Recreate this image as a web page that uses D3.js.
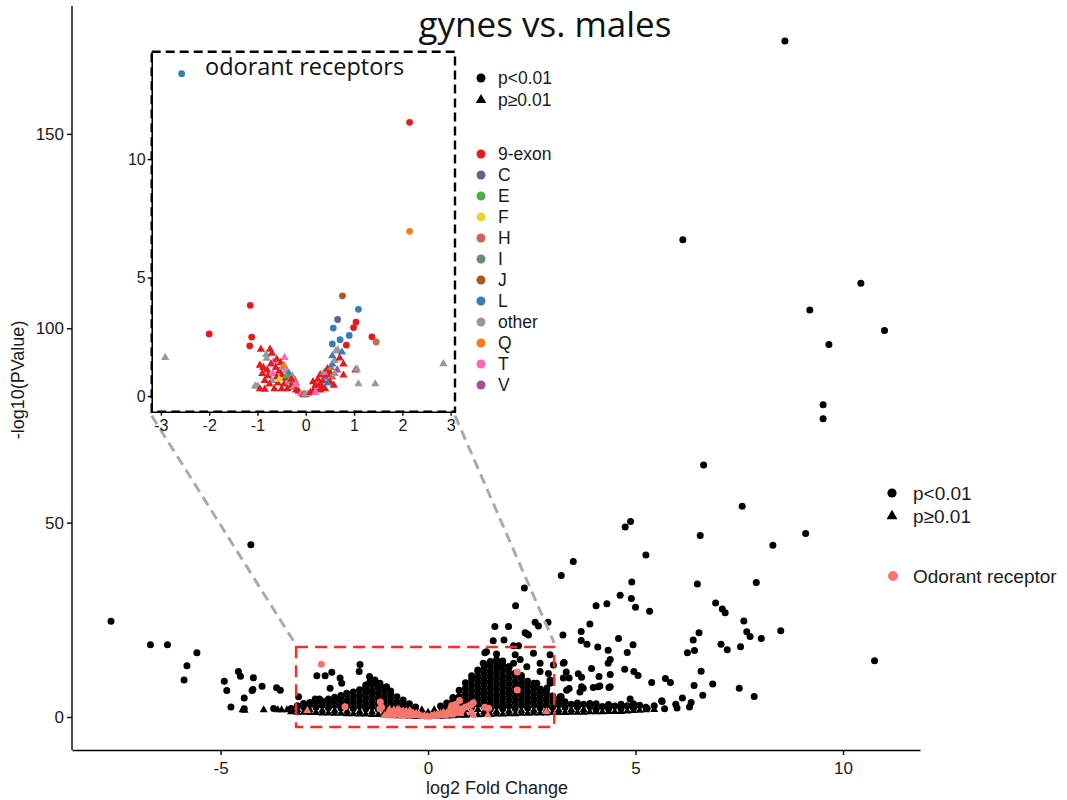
<!DOCTYPE html>
<html>
<head>
<meta charset="utf-8">
<script src="https://cdn.jsdelivr.net/npm/d3@7"></script>
<style>
  body { margin: 0; background: #fff; }
  text { font-family: "Liberation Sans", Arial, sans-serif; }
</style>
</head>
<body>
<svg id="chart" width="1067" height="800"></svg>
<script>
// ---------- data ----------
// Scattered genes (log2 fold change, -log10 p)
const outlierGenes = [
  [8.60,173.9],[6.14,122.8],[10.43,111.6],[9.20,104.7],[11.0,99.4],[9.66,95.8],[9.52,80.3],[9.52,76.7],
  [6.64,64.8],[7.57,54.2],[4.75,48.9],[4.88,50.3],[6.56,46.7],[9.10,47.2],[8.31,44.2],[5.25,41.7],
  [3.50,40.0],[3.21,36.4],[4.91,34.7],[6.49,34.2],[7.91,34.6],[4.63,31.3],[4.90,30.5],[5.00,28.2],
  [4.05,28.6],[4.31,29.1],[5.34,27.2],[6.93,29.3],[7.09,27.8],[7.16,26.8],[7.61,24.7],[2.89,24.4],
  [3.90,23.9],[3.69,22.0],[6.53,21.7],[6.39,19.8],[7.68,21.9],[7.76,20.7],[8.03,20.2],[8.50,22.2],
  [3.25,21.1],[4.59,20.2],[3.69,19.7],[3.83,18.7],[4.94,18.6],[4.09,18.0],[4.34,17.2],[4.80,16.6],
  [7.06,18.7],[7.21,17.3],[7.53,18.1],[6.25,16.5],[6.42,17.1],[10.76,14.5],[4.39,14.8],[4.34,13.8],
  [3.94,12.5],[4.74,12.3],[4.96,11.7],[5.06,10.7],[6.58,11.8],[3.28,14.0],[3.33,11.6],[3.62,11.1],
  [3.70,10.2],[4.12,10.4],[4.39,10.9],[5.39,8.9],[5.72,9.9],[5.84,8.9],[6.41,8.1],[6.86,8.5],
  [7.50,7.4],[7.86,5.3],[6.62,5.6],[6.34,3.7],[6.13,4.9],[5.97,3.3],[5.64,4.0],[5.28,2.2],
  [4.87,4.6],[4.14,8.0],[3.98,7.6],[4.36,7.6],[3.74,7.4],[3.40,7.3],[3.21,5.2],[3.34,6.9],
  [3.18,5.2],[2.86,7.4],[2.62,8.7],[2.22,7.8],[2.70,11.7],[2.94,9.5],[3.26,10.0],[3.66,6.4],
  [3.70,7.8],[4.10,7.8],[4.39,7.8],[5.63,4.2],
  [2.32,33.2],[2.11,28.6],[2.58,24.4],[2.66,23.4],[1.94,23.3],[1.61,23.3],[2.34,21.7],[2.42,21.1],
  [1.57,19.6],[1.83,19.8],[2.06,18.3],[2.18,18.3],[2.38,21.4],[1.37,16.5],[1.65,16.2],[2.10,16.0],
  [2.54,16.4],[2.94,16.0],[1.33,13.8],[1.73,12.9],[2.06,13.8],[2.38,12.9],[2.70,13.8],[3.02,13.4],
  [3.26,13.8],[2.22,14.8],[1.41,16.8],[2.90,11.2],[2.94,8.7],[3.40,10.0],
  [-4.27,44.3],[-7.64,24.6],[-6.69,18.6],[-6.28,18.6],[-5.57,16.5],[-5.81,13.2],[-5.88,9.5],
  [-4.57,11.7],[-4.52,10.5],[-4.21,10.1],[-4.91,9.2],[-4.85,6.8],[-4.22,7.1],[-4.24,6.8],
  [-4.00,7.9],[-3.65,7.5],[-3.56,6.9],[-4.43,4.9],[-4.75,2.6],[-4.43,2.1],[-3.72,2.2],[-3.12,5.2],
  [-4.47,1.8],[-4.42,1.7],[-3.96,1.8],[-3.62,1.8],[-3.40,1.8],[-3.28,1.8],[-3.53,1.8],
  [-1.64,13.5],[-1.66,11.7],[-2.68,10.6],[-2.48,10.6],[-2.32,11.5],[-2.12,10.0],[-2.36,7.4],
  [-2.08,8.7],[-1.96,6.1],[-2.72,4.6],[-2.62,4.6],[-1.41,10.4],[-1.40,9.1],[-1.28,9.5],
  [-1.16,8.7],[-1.00,7.8],[-1.48,6.5]
];

// Dense core of the volcano: per log2FC column, the -log10 p values of its genes
const bulkColumns = [
  [-3.30,[1.3,2.2]],
  [-3.15,[1.2,1.9,2.9]],
  [-3.00,[1.2,2.6,3.5]],
  [-2.85,[1.1,1.8,3.2,3.7]],
  [-2.70,[1.1,2.5,3.9]],
  [-2.55,[1.0,1.7,3.1,4.1]],
  [-2.40,[1.0,2.4,3.8,4.6]],
  [-2.25,[0.9,1.6,3.0,4.4,5.1]],
  [-2.10,[0.9,2.3,3.7,5.1,5.5]],
  [-1.95,[0.8,1.5,2.9,4.3,5.8]],
  [-1.80,[0.8,2.2,3.6,5.0,6.4]],
  [-1.65,[0.7,1.4,2.8,4.2,5.6,7.0]],
  [-1.50,[0.7,2.1,3.5,4.9,6.3,7.7,8.2]],
  [-1.35,[0.6,1.3,2.7,4.1,5.5,6.9,8.3]],
  [-1.20,[0.6,2.0,3.4,4.8,6.2,7.6,8.2]],
  [-1.05,[0.5,1.2,2.6,4.0,5.4,6.8,7.5]],
  [-0.90,[0.4,1.8,3.2,4.6,6.0,6.7]],
  [-0.75,[0.3,1.0,2.4,3.8,5.2]],
  [-0.60,[0.3,1.7,3.1,4.4]],
  [-0.45,[0.2,0.9,2.3,3.4]],
  [-0.30,[0.1,1.5,2.6]],
  [-0.15,[0.05,0.8,1.8]],
  [0.00,[0.03,1.2]],
  [0.15,[0.05,0.8,1.8]],
  [0.30,[0.1,1.5,2.8]],
  [0.45,[0.2,0.9,2.3,3.6]],
  [0.60,[0.3,1.7,3.1,4.5,5.0]],
  [0.75,[0.4,1.1,2.5,3.9,5.3,6.9]],
  [0.90,[0.4,1.8,3.2,4.6,6.0,7.4,8.8]],
  [1.05,[0.5,1.2,2.6,4.0,5.4,6.8,8.2,9.6,10.6]],
  [1.20,[0.5,1.9,3.3,4.7,6.1,7.5,8.9,10.3,11.7,12.1]],
  [1.35,[0.6,1.3,2.7,4.1,5.5,6.9,8.3,9.7,11.1,12.5,13.5]],
  [1.50,[0.6,2.0,3.4,4.8,6.2,7.6,9.0,10.4,11.8,13.2,14.3]],
  [1.65,[0.7,1.4,2.8,4.2,5.6,7.0,8.4,9.8,11.2,12.6,14.0,14.7]],
  [1.80,[0.7,2.1,3.5,4.9,6.3,7.7,9.1,10.5,11.9,13.3,14.4]],
  [1.95,[0.8,1.5,2.9,4.3,5.7,7.1,8.5,9.9,11.3,12.7,13.0]],
  [2.10,[0.8,2.2,3.6,5.0,6.4,7.8,9.2,10.6,11.3]],
  [2.25,[0.9,1.6,3.0,4.4,5.8,7.2,8.6,10.0,10.7]],
  [2.40,[0.9,2.3,3.7,5.1,6.5,7.9,9.2]],
  [2.55,[1.0,1.7,3.1,4.5,5.9,7.3,8.7]],
  [2.70,[1.0,2.4,3.8,5.2,6.6,7.2]],
  [2.85,[1.0,1.7,3.1,4.5,5.9,6.7]],
  [3.00,[1.1,2.5,3.9,5.4]],
  [3.15,[1.1,1.8,3.2,4.5]],
  [3.30,[1.1,2.5,3.9]],
  [3.45,[1.2,1.9,3.3]],
  [3.60,[1.2,2.6,3.6]],
  [3.75,[1.2,1.9,3.3]],
  [3.90,[1.3,2.7,3.5]],
  [4.05,[1.3,2.0,3.4]],
  [4.20,[1.3,2.7]],
  [4.35,[1.4,2.1,3.2]],
  [4.50,[1.4,2.8]],
  [4.65,[1.4,2.2,3.3]],
  [4.80,[1.5,2.9]],
  [4.95,[1.6,2.3,3.4]],
  [5.10,[1.7,3.0]],
  [5.25,[1.8,2.5]],
  [5.45,[1.9,2.9]],
  [5.70,[2.1]],
  [6.00,[2.3]],
  [6.30,[2.6]]
];

// Odorant receptor genes
const orLfc = [
  -2.57, 2.15, 2.15, 0.76, 1.09, 0.66, -1.15, -2.00, -1.12, -1.16, 0.57, 1.04, 0.99, 0.90, 0.71, 0.55, 0.84, 1.37, 1.46,
  -2.91, -1.05, -1.00, -0.95, -0.85, -0.93, -0.74, -0.81, -0.44, -0.67, -0.95, -0.88, -0.80, -0.72, -0.62, -0.55,
  -0.90, -0.78, -0.68, -0.60, -0.50, -0.42, -0.70, -0.58, -0.45, -0.35, -0.30, -0.25, -0.20, -0.15, -0.10, -0.05,
  -0.38, -0.50, -0.65, -0.75, -0.85, -0.52, -0.48, -0.40, -0.35, -0.28, -0.22, -0.60, -0.82, -0.70, -0.40, -0.55,
  -0.30, -0.20, -0.45, 0.00, 0.05, -0.02,
  0.10, 0.15, 0.20, 0.25, 0.30, 0.35, 0.40, 0.45, 0.50, 0.30, 0.38, 0.45, 0.52, 0.55, 0.60, 0.55, 0.62, 0.66,
  0.75, 0.70, 0.78, 0.78, 0.65, 0.55, 0.50, 0.58, 0.40, 0.30, 0.20, 0.45, 0.60, 0.25, 0.35, 1.03, 1.06, 1.09,
  1.44, 2.85, 0.15, 0.20
];
const orNlp = [
  13.6, 11.55, 6.95, 4.23, 3.66, 3.23, 3.83, 2.62, 2.49, 2.12, 2.87, 3.12, 2.89, 2.56, 2.38, 2.20, 2.15, 2.50, 2.28,
  1.62, 0.42, 0.42, 0.30, 0.28, 1.97, 1.97, 1.59, 1.62, 1.45, 1.30, 1.20, 1.10, 1.35, 1.20, 1.05,
  0.95, 0.85, 0.95, 0.80, 0.90, 0.75, 0.65, 0.55, 0.50, 0.60, 0.45, 0.35, 0.25, 0.20, 0.10, 0.05,
  0.30, 0.30, 0.30, 0.50, 0.65, 1.40, 1.20, 1.10, 0.95, 0.85, 0.65, 1.55, 1.75, 1.80, 0.85, 0.70,
  0.70, 0.50, 1.30, 0.05, 0.10, 0.08,
  0.15, 0.20, 0.35, 0.40, 0.50, 0.65, 0.80, 0.90, 1.00, 0.90, 1.00, 1.15, 1.20, 1.35, 1.50, 1.70, 1.90, 1.95,
  1.85, 1.60, 1.35, 0.88, 1.10, 0.80, 0.60, 0.45, 0.30, 0.25, 0.15, 0.55, 0.95, 0.70, 0.35, 1.10, 1.14, 0.51,
  0.51, 1.36, 0.60, 0.45
];
const orFam = [
  "L","9-exon","Q","J","L","C","9-exon","9-exon","9-exon","9-exon","L","9-exon","9-exon","L","L","L","9-exon","9-exon","H",
  "other","other","other","9-exon","9-exon","9-exon","9-exon","other","T","T","9-exon","9-exon","9-exon","9-exon","9-exon","9-exon",
  "9-exon","9-exon","T","9-exon","9-exon","9-exon","other","9-exon","9-exon","other","9-exon","other","9-exon","9-exon","T","9-exon",
  "9-exon","9-exon","9-exon","9-exon","9-exon","9-exon","other","T","L","other","H","9-exon","other","9-exon","E","F",
  "9-exon","T","Q","J","T","other",
  "9-exon","9-exon","9-exon","other","9-exon","9-exon","V","9-exon","9-exon","9-exon","other","9-exon","H","L","other","L","other","other",
  "L","9-exon","9-exon","9-exon","V","H","9-exon","9-exon","9-exon","9-exon","T","L","other","9-exon","9-exon","9-exon","other","other",
  "other","other","9-exon","9-exon"
];

const orFamilies = ["9-exon","C","E","F","H","I","J","L","other","Q","T","V"];
const orColors   = ["#E41A1C","#6A5D91","#4DAF4A","#E8D630","#CC6650","#6B8B6E","#A85A26","#377EB8","#999999","#F27E1F","#FF66BB","#A0509C"];

const mainXTicks = [-5, 0, 5, 10];
const mainYTicks = [0, 50, 100, 150];
const insetXTicks = [-3, -2, -1, 0, 1, 2, 3];
const insetYTicks = [0, 5, 10];
const sigCutoff = 2;            // -log10(0.01)
const zoomWindow = { x: [-3.18, 3.04], y: [-2.57, 18.0] };

// ---------- build rows ----------
const genes = outlierGenes.map(([l, p]) => ({ lfc: l, nlp: p }));
bulkColumns.forEach(([l, ps]) => ps.forEach(p => genes.push({ lfc: l, nlp: p })));
const ors = orLfc.map((l, i) => ({ lfc: l, nlp: orNlp[i], fam: orFam[i] }));

const famColor = d3.scaleOrdinal().domain(orFamilies).range(orColors);

// ---------- canvas ----------
const svg = d3.select("#chart");
const x = d3.scaleLinear().domain([-8.58, 11.855]).range([72, 920]);
const y = d3.scaleLinear().domain([-8.49, 182.9]).range([750, 6]);

const circleR = 3.5;
const triPath = d3.symbol().type(d3.symbolTriangle).size(28)();

function drawMarks(g, data, sx, sy, colorFn, r, tri) {
  g.selectAll(null).data(data.filter(d => d.nlp < sigCutoff)).join("path")
    .attr("d", tri)
    .attr("transform", d => `translate(${sx(d.lfc)},${sy(d.nlp)})`)
    .attr("fill", colorFn);
  g.selectAll(null).data(data.filter(d => d.nlp >= sigCutoff)).join("circle")
    .attr("cx", d => sx(d.lfc)).attr("cy", d => sy(d.nlp)).attr("r", r)
    .attr("fill", colorFn);
}

// main points: all genes in black, odorant receptors on top
drawMarks(svg.append("g"), genes, x, y, () => "#000", circleR, triPath);
drawMarks(svg.append("g"), ors, x, y, () => "#F8766D", circleR, triPath);

// main axes
const xAxis = svg.append("g").attr("transform", "translate(0,750)")
  .call(d3.axisBottom(x).tickValues(mainXTicks).tickSize(5).tickSizeOuter(0).tickFormat(d => String(d)));
const yAxis = svg.append("g").attr("transform", "translate(72,0)")
  .call(d3.axisLeft(y).tickValues(mainYTicks).tickSize(5).tickSizeOuter(0).tickFormat(d => String(d)));
[xAxis, yAxis].forEach(a => {
  a.select(".domain").attr("stroke", "#000").attr("stroke-width", 1.4);
  a.selectAll(".tick line").attr("stroke", "#000").attr("stroke-width", 1.4);
  a.selectAll(".tick text").attr("font-size", 17).attr("fill", "#1a1a1a")
    .style("font-family", "'Liberation Sans', Arial, sans-serif");
});
xAxis.selectAll(".tick text").attr("dy", "0.95em");
yAxis.selectAll(".tick text").attr("x", -8);
yAxis.select(".domain").attr("d", `M0,${y.range()[0]}V6`);

svg.append("text").attr("x", 497).attr("y", 794).attr("text-anchor", "middle")
  .attr("font-size", 18).attr("fill", "#1a1a1a").text("log2 Fold Change");
svg.append("text").attr("transform", "translate(24,380) rotate(-90)").attr("text-anchor", "middle")
  .attr("font-size", 18).attr("fill", "#1a1a1a").text("-log10(PValue)");

// zoom window rectangle
svg.append("rect")
  .attr("x", x(zoomWindow.x[0])).attr("y", y(zoomWindow.y[1]))
  .attr("width", x(zoomWindow.x[1]) - x(zoomWindow.x[0]))
  .attr("height", y(zoomWindow.y[0]) - y(zoomWindow.y[1]))
  .attr("fill", "none").attr("stroke", "#FF2A2A").attr("stroke-width", 2.4)
  .attr("stroke-dasharray", "12,7");

// inset
const ix = d3.scaleLinear().domain([-3.19, 3.09]).range([151.7, 455]);
const iy = d3.scaleLinear().domain([-0.66, 14.53]).range([411.7, 51.7]);

// connector lines
svg.append("line").attr("x1", ix.range()[0]).attr("y1", iy.range()[0] + 4)
  .attr("x2", x(zoomWindow.x[0])).attr("y2", y(zoomWindow.y[1]) - 2)
  .attr("stroke", "#AAAAAA").attr("stroke-width", 3).attr("stroke-dasharray", "10,6");
svg.append("line").attr("x1", ix.range()[1]).attr("y1", iy.range()[0] + 4)
  .attr("x2", x(zoomWindow.x[1])).attr("y2", y(zoomWindow.y[1]) - 4)
  .attr("stroke", "#AAAAAA").attr("stroke-width", 3).attr("stroke-dasharray", "10,6");

const gIn = svg.append("g");
gIn.append("rect").attr("x", ix.range()[0]).attr("y", iy.range()[1])
  .attr("width", ix.range()[1] - ix.range()[0]).attr("height", iy.range()[0] - iy.range()[1])
  .attr("fill", "#fff");

const triInset = d3.symbol().type(d3.symbolTriangle).size(30)();
drawMarks(gIn.append("g"), ors, ix, iy, d => famColor(d.fam), 3.4, triInset);

const ixAxis = gIn.append("g").attr("transform", `translate(0,${iy.range()[0]})`)
  .call(d3.axisBottom(ix).tickValues(insetXTicks).tickSize(4).tickSizeOuter(0).tickFormat(d => String(d)));
const iyAxis = gIn.append("g").attr("transform", `translate(${ix.range()[0]},0)`)
  .call(d3.axisLeft(iy).tickValues(insetYTicks).tickSize(4).tickSizeOuter(0).tickFormat(d => String(d)));
[ixAxis, iyAxis].forEach(a => {
  a.select(".domain").attr("stroke", "#000").attr("stroke-width", 1.6);
  a.selectAll(".tick line").attr("stroke", "#000").attr("stroke-width", 1.4);
  a.selectAll(".tick text").attr("font-size", 16).attr("fill", "#1a1a1a")
    .style("font-family", "'Liberation Sans', Arial, sans-serif");
});
ixAxis.selectAll(".tick text").attr("dy", "0.8em");
iyAxis.selectAll(".tick text").attr("x", -6);

gIn.append("rect").attr("x", ix.range()[0]).attr("y", iy.range()[1])
  .attr("width", ix.range()[1] - ix.range()[0]).attr("height", iy.range()[0] - iy.range()[1])
  .attr("fill", "none").attr("stroke", "#000").attr("stroke-width", 2.4)
  .attr("stroke-dasharray", "9,5");

gIn.append("text").attr("x", 205).attr("y", 75).attr("font-size", 23.5)
  .style("font-family", "'Open Sans', sans-serif").attr("fill", "#111").text("odorant receptors");

// inset legend
const legIn = svg.append("g");
const triLeg = d3.symbol().type(d3.symbolTriangle).size(48)();
legIn.append("circle").attr("cx", 481).attr("cy", 78).attr("r", 4.5).attr("fill", "#000");
legIn.append("path").attr("d", triLeg).attr("transform", "translate(481,100)").attr("fill", "#000");
legIn.append("text").attr("x", 498).attr("y", 84).attr("font-size", 17.5).attr("fill", "#1a1a1a").text("p<0.01");
legIn.append("text").attr("x", 498).attr("y", 106).attr("font-size", 17.5).attr("fill", "#1a1a1a").text("p\u22650.01");
orFamilies.forEach((f, i) => {
  const cy = 154 + 21 * i;
  legIn.append("circle").attr("cx", 481).attr("cy", cy).attr("r", 4.5).attr("fill", famColor(f));
  legIn.append("text").attr("x", 498).attr("y", cy + 6).attr("font-size", 17.5).attr("fill", "#1a1a1a").text(f);
});

// main legend
const leg = svg.append("g");
const triLegMain = d3.symbol().type(d3.symbolTriangle).size(52)();
leg.append("circle").attr("cx", 892).attr("cy", 493).attr("r", 4.6).attr("fill", "#000");
leg.append("path").attr("d", triLegMain).attr("transform", "translate(892,516)").attr("fill", "#000");
leg.append("circle").attr("cx", 893).attr("cy", 576).attr("r", 5).attr("fill", "#F8766D");
leg.append("text").attr("x", 913).attr("y", 500).attr("font-size", 19).attr("fill", "#1a1a1a").text("p<0.01");
leg.append("text").attr("x", 913).attr("y", 523).attr("font-size", 19).attr("fill", "#1a1a1a").text("p\u22650.01");
leg.append("text").attr("x", 913).attr("y", 583).attr("font-size", 19).attr("fill", "#1a1a1a").text("Odorant receptor");

// title
svg.append("text").attr("x", 545).attr("y", 37).attr("text-anchor", "middle")
  .attr("font-size", 35).style("font-family", "'Open Sans', sans-serif").attr("fill", "#111")
  .text("gynes vs. males");
</script>
</body>
</html>
